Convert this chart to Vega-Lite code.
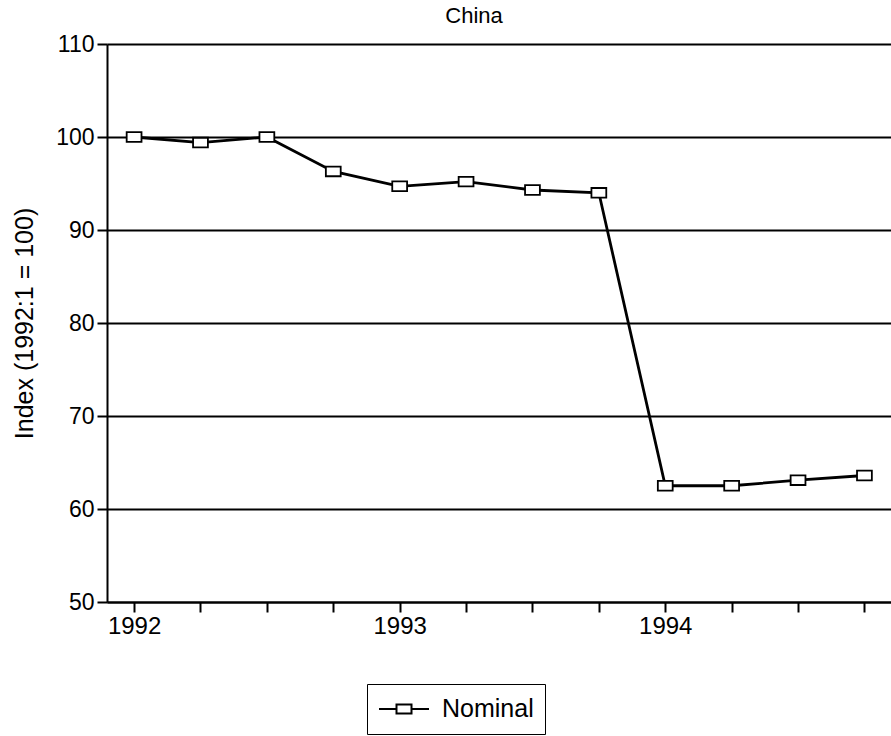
{
  "$schema": "https://vega.github.io/schema/vega-lite/v6.json",
  "autosize": {"type": "none"},
  "padding": {"left": 107, "top": 44, "right": 0, "bottom": 134},
  "width": 784,
  "height": 558,
  "background": "white",
  "title": {"text": "China", "font": "Liberation Sans", "fontSize": 22, "fontWeight": "normal", "color": "black", "anchor": "middle", "dx": -25, "offset": 5},
  "data": {"values": [
    {"t": 1992.00, "v": 100.0, "series": "Nominal"},
    {"t": 1992.25, "v": 99.4, "series": "Nominal"},
    {"t": 1992.50, "v": 100.0, "series": "Nominal"},
    {"t": 1992.75, "v": 96.3, "series": "Nominal"},
    {"t": 1993.00, "v": 94.7, "series": "Nominal"},
    {"t": 1993.25, "v": 95.2, "series": "Nominal"},
    {"t": 1993.50, "v": 94.3, "series": "Nominal"},
    {"t": 1993.75, "v": 94.0, "series": "Nominal"},
    {"t": 1994.00, "v": 62.5, "series": "Nominal"},
    {"t": 1994.25, "v": 62.5, "series": "Nominal"},
    {"t": 1994.50, "v": 63.1, "series": "Nominal"},
    {"t": 1994.75, "v": 63.6, "series": "Nominal"}
  ]},
  "encoding": {
    "x": {"field": "t", "type": "quantitative",
      "scale": {"domain": [1991.898, 1994.85], "nice": false, "zero": false},
      "axis": {"title": null, "grid": false,
        "values": [1992, 1992.25, 1992.5, 1992.75, 1993, 1993.25, 1993.5, 1993.75, 1994, 1994.25, 1994.5, 1994.75],
        "labelExpr": "datum.value % 1 == 0 ? format(datum.value, 'd') : ''",
        "labelFont": "Liberation Sans", "labelFontSize": 24, "labelColor": "black", "labelPadding": 2,
        "domainColor": "black", "domainWidth": 2, "tickColor": "black", "tickWidth": 2, "tickSize": 10}},
    "y": {"field": "v", "type": "quantitative",
      "scale": {"domain": [50, 110], "nice": false, "zero": false},
      "axis": {"title": "Index (1992:1 = 100)", "values": [50, 60, 70, 80, 90, 100, 110],
        "grid": true, "gridColor": "black", "gridWidth": 2, "gridOpacity": 1,
        "labelFont": "Liberation Sans", "labelFontSize": 23, "labelColor": "black", "labelPadding": 3,
        "titleFont": "Liberation Sans", "titleFontSize": 25, "titleFontWeight": "normal", "titleColor": "black", "titlePadding": 18,
        "domainColor": "black", "domainWidth": 2, "tickColor": "black", "tickWidth": 2, "tickSize": 10}}
  },
  "layer": [
    {"mark": {"type": "line", "strokeWidth": 2.8},
     "encoding": {
      "color": {"field": "series", "type": "nominal", "scale": {"range": ["black"]},
        "legend": {"title": null, "orient": "none", "legendX": 260, "legendY": 640,
          "strokeColor": "black", "padding": 11, "clipHeight": 28,
          "symbolType": "M-1,0L-0.3,0M0.3,0L1,0M-0.3,-0.18L0.3,-0.18L0.3,0.18L-0.3,0.18Z",
          "symbolSize": 2500, "symbolStrokeWidth": 2, "symbolFillColor": "white", "symbolStrokeColor": "black",
          "labelFont": "Liberation Sans", "labelFontSize": 25, "labelColor": "black", "labelOffset": 12,
          "rowPadding": 0}}}},
    {"mark": {"type": "point", "shape": "M-1,-0.65L1,-0.65L1,0.65L-1,0.65Z", "size": 220, "filled": true, "fill": "white", "stroke": "black", "strokeWidth": 1.8, "opacity": 1}}
  ]
}
